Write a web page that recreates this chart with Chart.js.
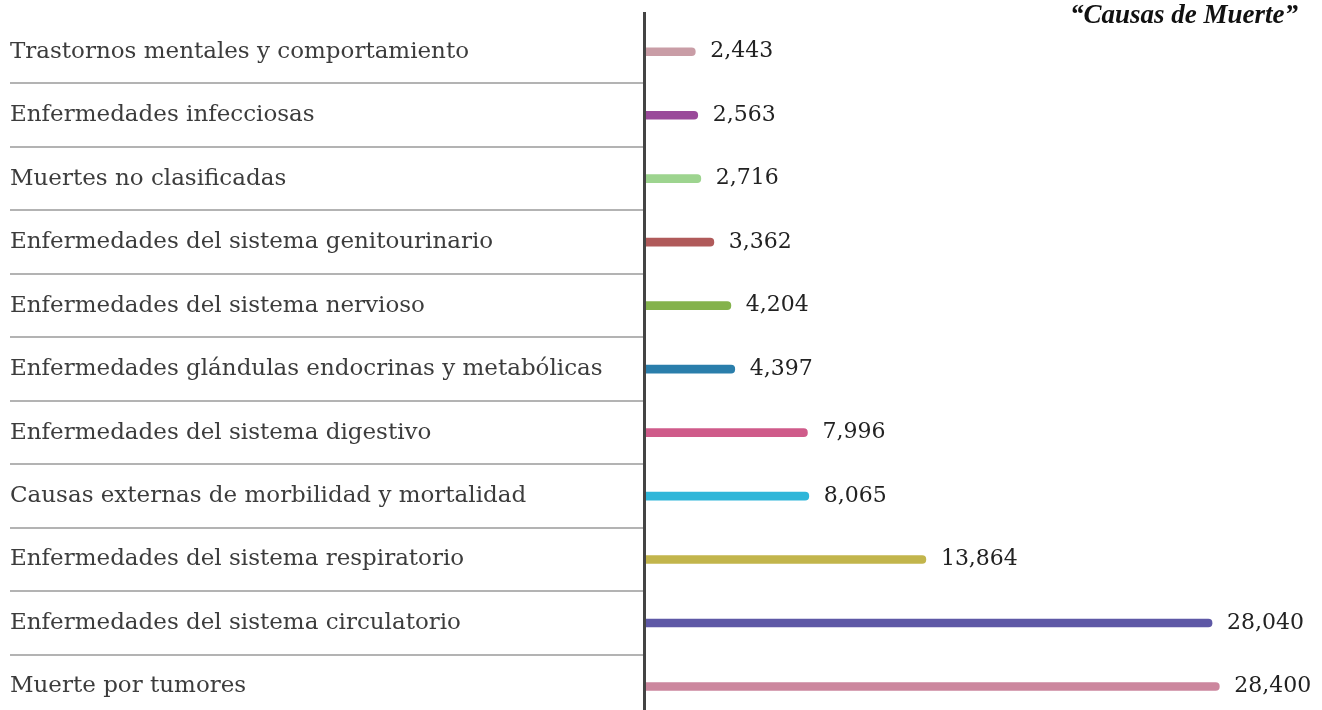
<!DOCTYPE html>
<html>
<head>
<meta charset="utf-8">
<script src="https://cdn.jsdelivr.net/npm/chart.js@4.4.1/dist/chart.umd.min.js"></script>
<style>
  html, body { margin: 0; padding: 0; background: #fff; overflow: hidden; }
  canvas { display: block; }
</style>
</head>
<body>
<canvas id="myChart" width="1322" height="732" style="width:1322px;height:732px"></canvas>
<script>
const categories = [
  'Trastornos mentales y comportamiento',
  'Enfermedades infecciosas',
  'Muertes no clasificadas',
  'Enfermedades del sistema genitourinario',
  'Enfermedades del sistema nervioso',
  'Enfermedades glándulas endocrinas y metabólicas',
  'Enfermedades del sistema digestivo',
  'Causas externas de morbilidad y mortalidad',
  'Enfermedades del sistema respiratorio',
  'Enfermedades del sistema circulatorio',
  'Muerte por tumores'
];
const deaths = [2443, 2563, 2716, 3362, 4204, 4397, 7996, 8065, 13864, 28040, 28400];
const barColors = [
  '#c99da6', '#9a4a9a', '#9dd48f', '#b05a5a', '#84b24c', '#2a7eab',
  '#cf5b8a', '#2fb6d9', '#c2b54c', '#5e58a6', '#cc879e'
];
const chartTitle = '\u201CCausas de Muerte\u201D';

const valueFont = '22px "DejaVu Serif"';

// lines between the rows, the axis line, the value labels and the title
const extrasPlugin = {
  id: 'extras',
  afterDraw(chart) {
    const ctx = chart.ctx;
    const y = chart.scales.y;
    const area = chart.chartArea;
    ctx.save();

    ctx.strokeStyle = '#b3b3b3';
    ctx.lineWidth = 2;
    for (let i = 0; i < categories.length - 1; i++) {
      const py = Math.round((y.getPixelForValue(i) + y.getPixelForValue(i + 1)) / 2);
      ctx.beginPath();
      ctx.moveTo(10, py);
      ctx.lineTo(area.left - 3, py);
      ctx.stroke();
    }

    ctx.strokeStyle = '#444';
    ctx.lineWidth = 3;
    ctx.beginPath();
    ctx.moveTo(area.left - 1.5, 12);
    ctx.lineTo(area.left - 1.5, chart.height);
    ctx.stroke();

    ctx.fillStyle = '#222';
    ctx.font = valueFont;
    ctx.textAlign = 'left';
    ctx.textBaseline = 'middle';
    chart.getDatasetMeta(0).data.forEach((bar, i) => {
      ctx.fillText(deaths[i].toLocaleString('en-US'), bar.x + 15, bar.y);
    });

    ctx.font = 'italic bold 27px "Liberation Serif"';
    ctx.textAlign = 'right';
    ctx.textBaseline = 'alphabetic';
    ctx.fillStyle = '#111';
    ctx.fillText(chartTitle, 1298, 23);
    ctx.restore();
  }
};

const ctx = document.getElementById('myChart').getContext('2d');
const myChart = new Chart(ctx, {
  type: 'bar',
  data: {
    labels: categories,
    datasets: [{
      data: deaths,
      backgroundColor: barColors,
      barThickness: 8,
      borderRadius: 4,
      borderSkipped: 'start'
    }]
  },
  options: {
    indexAxis: 'y',
    responsive: false,
    animation: false,
    layout: { padding: { left: 10, right: 30, top: 20, bottom: 0 } },
    plugins: {
      legend: { display: false },
      tooltip: { enabled: false }
    },
    scales: {
      x: {
        display: false,
        min: 0,
        max: 32000
      },
      y: {
        grid: { display: false, drawTicks: false },
        border: { display: false },
        afterFit(scale) { scale.width = 636; },
        ticks: {
          crossAlign: 'far',
          padding: 0,
          color: '#3c3c3c',
          font: { family: 'DejaVu Serif', size: 23 }
        }
      }
    }
  },
  plugins: [extrasPlugin]
});
</script>
</body>
</html>
